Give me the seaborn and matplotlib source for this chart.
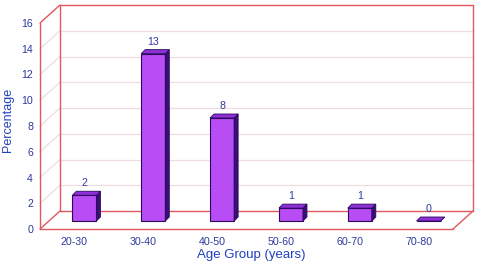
import numpy as np
import matplotlib
matplotlib.use('Agg')
import matplotlib.pyplot as plt
import seaborn as sns
from matplotlib.patches import Polygon
from matplotlib.lines import Line2D
from matplotlib.transforms import IdentityTransform, ScaledTranslation

categories = ['20-30', '30-40', '40-50', '50-60', '60-70', '70-80']
values = [2, 13, 8, 1, 1, 0]
yticks = [0, 2, 4, 6, 8, 10, 12, 14, 16]

sns.set_theme(style='white')
plt.rcParams['font.family'] = ['Liberation Sans', 'DejaVu Sans']

FACE = '#B84CF5'
SIDE = '#3A0E78'
TOP = '#8E2FD8'
EDGE = '#2A0A5A'
RED = '#E0585E'
GRID = '#F0DCDC'
TXT = '#2E3A9E'
LAB = '#2040C0'

fig = plt.figure(figsize=(4.79, 2.64), dpi=100)
ax = fig.add_axes([40/479, 35/264, 413/479, 206/264])
sns.barplot(x=categories, y=values, color=FACE, width=0.35, saturation=1,
            edgecolor=EDGE, linewidth=0.8, ax=ax, zorder=3)
ax.set_xlim(-0.5, 5.5)
ax.set_ylim(0, 16)
ax.set_autoscale_on(False)
ax.set_yticks(yticks)
for s in ax.spines.values():
    s.set_visible(False)
ax.grid(False)
ax.patch.set_alpha(0)
ax.tick_params(length=0, labelsize=7.7, labelcolor=TXT)
ax.tick_params(axis='y', pad=5)
ax.tick_params(axis='x', pad=6)

# depth offsets in pixels
DX, DY = 20, 18      # full depth of the box
BX, BY = 10, 8       # bar placement depth
bdx, bdy = 4, 4      # bar thickness

def P(x, y, ox=0, oy=0):
    px, py = ax.transData.transform((x, y))
    return (px + ox, py + oy)

def poly(pts, fc, ec='none', lw=0.8, z=1):
    pg = Polygon(pts, closed=True, facecolor=fc, edgecolor=ec, linewidth=lw,
                 transform=IdentityTransform(), zorder=z, clip_on=False)
    ax.add_artist(pg)

def line(p0, p1, c, lw=0.9, z=1):
    ln = Line2D([p0[0], p1[0]], [p0[1], p1[1]], color=c, lw=lw,
                transform=IdentityTransform(), zorder=z, clip_on=False)
    ax.add_artist(ln)

x0, x1 = -0.5, 5.5
ytop = yticks[-1]
# walls
poly([P(x0, 0, DX, DY), P(x1, 0, DX, DY), P(x1, ytop, DX, DY), P(x0, ytop, DX, DY)], 'white', z=0.5)
for v in yticks[1:-1]:
    line(P(x0, v, DX, DY), P(x1, v, DX, DY), GRID, 0.9)
    line(P(x0, v), P(x0, v, DX, DY), GRID, 0.9)
for a, b in [((x0, 0, DX, DY), (x1, 0, DX, DY)), ((x0, ytop, DX, DY), (x1, ytop, DX, DY)),
             ((x0, 0, DX, DY), (x0, ytop, DX, DY)), ((x1, 0, DX, DY), (x1, ytop, DX, DY)),
             ((x0, 0), (x1, 0)), ((x0, 0), (x0, ytop)), ((x0, ytop), (x0, ytop, DX, DY)),
             ((x0, 0), (x0, 0, DX, DY)), ((x1, 0), (x1, 0, DX, DY))]:
    line(P(*a), P(*b), RED, 1.0, 1.5)

# bars: shift to mid depth and add 3D faces
off = ScaledTranslation(BX/100, BY/100, fig.dpi_scale_trans)
for p, v in zip(list(ax.patches), values):
    p.set_transform(ax.transData + off)
    p.set_clip_on(False)
    bx, bw, bh = p.get_x(), p.get_width(), p.get_height()
    # side
    poly([P(bx+bw, 0, BX, BY), P(bx+bw, bh, BX, BY), P(bx+bw, bh, BX+bdx, BY+bdy),
          P(bx+bw, 0, BX+bdx, BY+bdy)], SIDE, EDGE, 0.6, 4)
    # top
    poly([P(bx, bh, BX, BY), P(bx+bw, bh, BX, BY), P(bx+bw, bh, BX+bdx, BY+bdy),
          P(bx, bh, BX+bdx, BY+bdy)], TOP, EDGE, 0.6, 4)
    ax.text(bx + bw/2, bh, f'{v}', ha='center', va='baseline', fontsize=7.7,
            color=TXT, transform=ax.transData + ScaledTranslation(BX/100, (BY+9)/100, fig.dpi_scale_trans))

ax.set_xlabel('Age Group (years)', fontsize=9.5, color=LAB)
ax.set_ylabel('Percentage', fontsize=9, color=LAB)
ax.xaxis.set_label_coords(0.511, -0.095)
ax.yaxis.set_label_coords(-0.063, 0.53)

fig.savefig('out.png', dpi=100)
